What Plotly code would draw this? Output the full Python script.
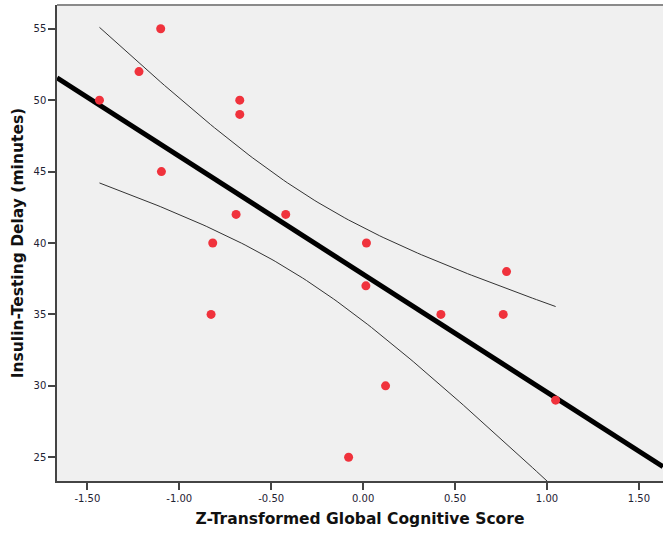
import numpy as np
import plotly.graph_objects as go

# Scatter data
cog_score = [-1.434, -1.219, -1.101, -1.097, -0.671, -0.671, -0.818, -0.827, -0.691,
             -0.421, 0.018, 0.015, 0.122, -0.079, 0.423, 0.762, 0.780, 1.047]
delay_min = [50, 52, 55, 45, 50, 49, 40, 35, 42,
             42, 40, 37, 30, 25, 35, 35, 38, 29]

x_ticks = [-1.5, -1.0, -0.5, 0.0, 0.5, 1.0, 1.5]
x_ticklabels = ["-1.50", "-1.00", "-0.50", "0.00", "0.50", "1.00", "1.50"]
y_ticks = [25, 30, 35, 40, 45, 50, 55]

x_range = [-1.665, 1.631]
y_range = [23.34, 56.66]

# Linear fit and 95% mean confidence band (as drawn by the original software)
x = np.array(cog_score, dtype=float)
y = np.array(delay_min, dtype=float)
n = len(x)
slope, intercept = np.polyfit(x, y, 1)
resid = y - (slope * x + intercept)
s = np.sqrt(np.sum(resid ** 2) / (n - 2))
sxx = np.sum((x - x.mean()) ** 2)
t_crit = 2.1199  # t(0.975, df=16)

fit_x = np.array(x_range)
fit_y = slope * fit_x + intercept

band_x = np.linspace(x.min(), x.max(), 120)
band_mid = slope * band_x + intercept
half = t_crit * s * np.sqrt(1.0 / n + (band_x - x.mean()) ** 2 / sxx)

fig = go.Figure()
fig.add_trace(go.Scatter(x=band_x, y=band_mid + half, mode="lines",
                         line=dict(color="#333333", width=1), hoverinfo="skip"))
fig.add_trace(go.Scatter(x=band_x, y=band_mid - half, mode="lines",
                         line=dict(color="#333333", width=1), hoverinfo="skip"))
fig.add_trace(go.Scatter(x=fit_x, y=fit_y, mode="lines",
                         line=dict(color="#000000", width=5)))
fig.add_trace(go.Scatter(x=cog_score, y=delay_min, mode="markers",
                         marker=dict(color="#f0323c", size=9, line=dict(width=0))))

fig.update_layout(
    width=663, height=533,
    margin=dict(l=57, r=0, t=5, b=52),
    paper_bgcolor="white",
    plot_bgcolor="#f0f0f0",
    showlegend=False,
    font=dict(family="DejaVu Sans", color="#1e2233"),
    shapes=[dict(type="line", xref="paper", yref="paper", x0=0, x1=1, y0=1, y1=1,
                 line=dict(color="#8a8a8a", width=2))],
)
fig.update_xaxes(
    range=x_range, tickvals=x_ticks, ticktext=x_ticklabels,
    showgrid=False, zeroline=False,
    showline=True, linecolor="#444444", linewidth=1.5,
    ticks="outside", ticklen=7, tickcolor="#444444", tickwidth=1.5,
    tickfont=dict(size=10, family="DejaVu Sans", color="#1e2233"),
    title=dict(text="<b>Z-Transformed Global Cognitive Score</b>",
               font=dict(size=15.5, family="DejaVu Sans", color="#111111"), standoff=10),
)
fig.update_yaxes(
    range=y_range, tickvals=y_ticks,
    showgrid=False, zeroline=False,
    showline=True, linecolor="#444444", linewidth=1.5,
    ticks="outside", ticklen=7, tickcolor="#444444", tickwidth=1.5,
    tickfont=dict(size=10, family="DejaVu Sans", color="#1e2233"),
    title=dict(text="<b>Insulin-Testing Delay (minutes)</b>",
               font=dict(size=15.5, family="DejaVu Sans", color="#111111"), standoff=6),
)

fig.write_html("out.html",
               config={"displayModeBar": False},
               post_script="document.body.style.margin='0';document.body.style.overflow='hidden';")
